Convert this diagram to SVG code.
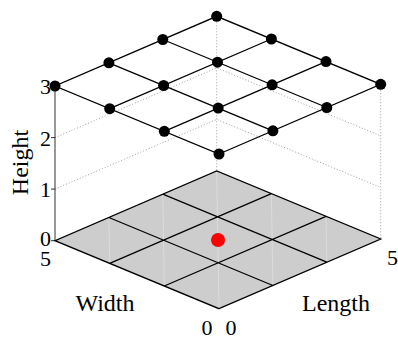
<svg xmlns="http://www.w3.org/2000/svg" width="398" height="338" viewBox="0 0 398 338">
<style>
text{font-family:"Liberation Serif","Times New Roman",serif;font-size:24px;fill:#000}
.num{font-size:22px}
.grid{stroke:#000;stroke-width:1.3;fill:none}
.dot{stroke:#a0a0a0;stroke-width:1;stroke-dasharray:1 2;fill:none}
.seam{stroke:#dcdcdc;stroke-width:1;fill:none}
.node{fill:#000}
</style>
<rect width="398" height="338" fill="#fff"/>
<g id="walls">
<path class="dot" d="M55,189.1L216.7,119.4L380.7,187.4M55,137.6L216.7,67.9L380.7,135.9M216.7,16.3V171M380.7,84.3V239"/>
</g>
<g id="axis">
<path stroke="#333" stroke-width="1" fill="none" d="M55,86V240.7M51,86H55M51,137.6H55M51,189.1H55M51,240.7H55"/>
<text class="num" x="51" y="93.5" text-anchor="end">3</text>
<text class="num" x="51" y="145.5" text-anchor="end">2</text>
<text class="num" x="51" y="196.5" text-anchor="end">1</text>
<text class="num" x="51" y="246" text-anchor="end">0</text>
<text class="num" x="51" y="265.5" text-anchor="end">5</text>
<text class="num" x="387" y="265">5</text>
<text class="num" x="201.5" y="334.5">0</text>
<text class="num" x="225.5" y="334.5">0</text>
<text x="28" y="162.5" text-anchor="middle" transform="rotate(-90 28 162.5)">Height</text>
<text x="105" y="310.5" text-anchor="middle">Width</text>
<text x="336" y="311" text-anchor="middle">Length</text>
</g>
<g id="floor">
<path d="M219,308.7L380.7,239L216.7,171L55,240.7Z" fill="#cdcdcd"/>
<path class="seam" d="M109.7,263.4L108.9,217.5M164.3,286L162.8,194.2M219,308.7L216.7,171M272.9,285.5L271.4,193.7M326.8,262.2L326,216.3"/>
<path class="grid" d="M219,308.7L380.7,239L216.7,171L55,240.7Z M272.9,285.5L108.9,217.5M326.8,262.2L162.8,194.2M164.3,286L326,216.3M109.7,263.4L271.4,193.7"/>
</g>
<g id="point">
<circle cx="218" cy="240" r="7" fill="#ff0000"/>
</g>
<g id="connectors">
<path class="grid" d="M219,154L380.7,84.3L216.7,16.3L55,86Z M272.9,130.8L108.9,62.8M326.8,107.5L162.8,39.5M164.3,131.3L326,61.6M109.7,108.7L271.4,39"/>
</g>
<g id="nodes" class="node">
<circle cx="219" cy="154" r="5.5"/>
<circle cx="272.9" cy="130.8" r="5.5"/>
<circle cx="326.8" cy="107.5" r="5.5"/>
<circle cx="380.7" cy="84.3" r="5.5"/>
<circle cx="164.3" cy="131.3" r="5.5"/>
<circle cx="218.2" cy="108.1" r="5.5"/>
<circle cx="272.1" cy="84.8" r="5.5"/>
<circle cx="326" cy="61.6" r="5.5"/>
<circle cx="109.7" cy="108.7" r="5.5"/>
<circle cx="163.6" cy="85.5" r="5.5"/>
<circle cx="217.5" cy="62.2" r="5.5"/>
<circle cx="271.4" cy="39" r="5.5"/>
<circle cx="55" cy="86" r="5.5"/>
<circle cx="108.9" cy="62.8" r="5.5"/>
<circle cx="162.8" cy="39.5" r="5.5"/>
<circle cx="216.7" cy="16.3" r="5.5"/>
</g>
</svg>
